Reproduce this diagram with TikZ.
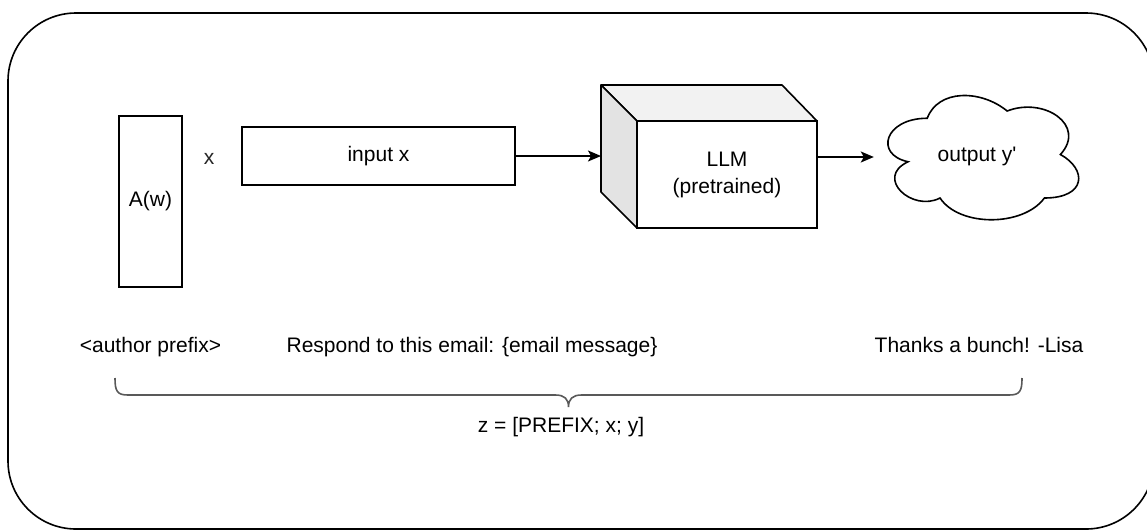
\documentclass[tikz,border=0pt]{standalone}
\usepackage{fontspec}
\setmainfont{Liberation Sans}[Ligatures=TeXOff]
\usetikzlibrary{arrows.meta,calc}
\begin{document}
\begin{tikzpicture}[x=1pt,y=-1pt,
  every node/.style={font=\fontsize{21}{25}\selectfont, inner sep=0pt},
  box/.style={draw=black, line width=1.6pt, fill=white},
  conn/.style={draw=black, line width=1.6pt, -{Stealth[length=13pt,width=11pt,inset=3pt]}},
  lbl/.style={text=black!85},
  bottomtxt/.style={anchor=base}]
\clip (0,0) rectangle (1147,531);
\fill[white] (0,0) rectangle (1147,531);
% outer frame
\draw[line width=1.6pt, rounded corners=68pt] (8,13) rectangle (1154,529);

% A(w)
\node[box, minimum width=63pt, minimum height=171pt] (aw) at (150.5,201.5) {A(w)};
\node[lbl] (xl) at (209,159) {x};
% input x
\node[box, minimum width=273pt, minimum height=58pt] (inp) at (378.5,156) {input x};

% LLM cube
\filldraw[line width=1.6pt, fill=black!5, line join=round] (601,85) -- (782,85) -- (817,121) -- (637,121) -- cycle;
\filldraw[line width=1.6pt, fill=black!11, line join=round] (601,85) -- (637,121) -- (637,228) -- (601,192) -- cycle;
\node[box, minimum width=180pt, minimum height=107pt, align=center] (llm) at (727,174.5) {LLM\\[2pt](pretrained)};
\coordinate (llmin) at (601,156);

% cloud
\node[minimum width=213pt, minimum height=145pt] (cloud) at (980.5,154.5) {};
\draw[line width=1.6pt, fill=white] (927.25,118.25)
  .. controls (884.65,118.25) and (874,154.5) .. (908.08,161.75)
  .. controls (874,177.7) and (912.34,212.5) .. (940.03,198)
  .. controls (959.2,227) and (1023.1,227) .. (1044.4,198)
  .. controls (1087,198) and (1087,169) .. (1060.375,154.5)
  .. controls (1087,125.5) and (1044.4,96.5) .. (1007.125,111)
  .. controls (980.5,89.25) and (937.9,89.25) .. (927.25,118.25) -- cycle;
\node (outy) at (977,156) {output y'};

% connectors
\draw[conn] (inp.east) -- (llmin);
\draw[conn] (llm.east |- 0,157) -- (cloud.west |- 0,157);

% bottom texts
\node[bottomtxt] (pre) at (150.5,352) {<author prefix>};
\node[bottomtxt] (resp) at (472,352) {Respond to this email: \{email message\}};
\node[bottomtxt] (thx) at (979,352) {Thanks a bunch! -Lisa};
\node (z) at (561,427) {z = [PREFIX; x; y]};

% brace
\coordinate (bl) at (115,378);
\coordinate (br) at (1022,378);
\coordinate (bm) at (568.5,407);
\draw[line width=1.6pt, draw=black!65]
  (bl) .. controls (115,391) and (117,395) .. (128,395) -- (555.5,395)
  .. controls (564.5,395) and (568.5,399) .. (bm)
  .. controls (568.5,399) and (572.5,395) .. (581.5,395) -- (1009,395)
  .. controls (1020,395) and (1022,391) .. (br);
\end{tikzpicture}
\end{document}
